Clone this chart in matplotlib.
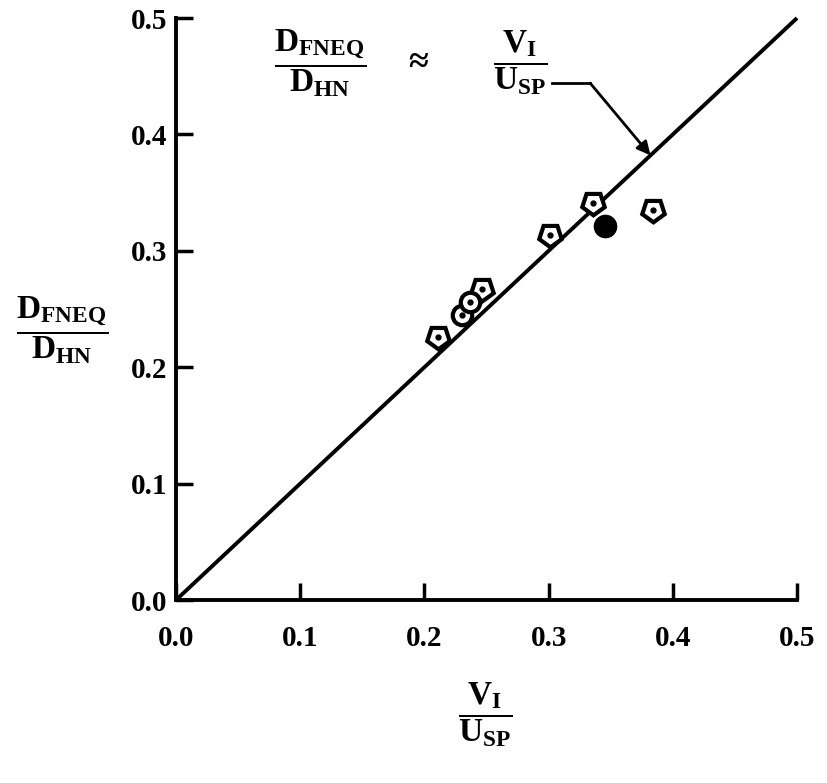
import matplotlib

matplotlib.use("Agg")
import matplotlib.pyplot as plt

# data
ratio_open = [0.211, 0.246, 0.301, 0.336, 0.384]
dfneq_open = [0.226, 0.267, 0.314, 0.341, 0.335]
ratio_circ = [0.230, 0.237]
dfneq_circ = [0.245, 0.256]
ratio_filled = [0.345]
dfneq_filled = [0.321]
line_x = [0.0, 0.5]
ticks = [0.0, 0.1, 0.2, 0.3, 0.4, 0.5]
tick_labels = ["0.0", "0.1", "0.2", "0.3", "0.4", "0.5"]

plt.rcParams.update(
    {
        "font.family": "Liberation Serif",
        "font.weight": "bold",
        "mathtext.fontset": "custom",
        "mathtext.rm": "Liberation Serif:bold",
        "mathtext.it": "Liberation Serif:bold",
        "mathtext.bf": "Liberation Serif:bold",
    }
)

fig = plt.figure(figsize=(8.28, 7.83), dpi=100)
ax = fig.add_axes([0.2126, 0.2337, 0.75, 0.7433])

ax.plot(line_x, line_x, color="black", lw=2.8, solid_capstyle="butt", clip_on=False)

# shield-like open symbols with a dot in the middle
shield = (5, 0, 180)
ax.plot(ratio_open, dfneq_open, ls="none", marker=shield, ms=17, mfc="white",
        mec="black", mew=3, zorder=3)
ax.plot(ratio_circ, dfneq_circ, ls="none", marker="o", ms=14, mfc="white",
        mec="black", mew=3, zorder=3)
ax.plot(ratio_open + ratio_circ, dfneq_open + dfneq_circ, ls="none", marker="o",
        ms=3.5, color="black", zorder=4)
ax.plot(ratio_filled, dfneq_filled, ls="none", marker="o", ms=16, color="black", zorder=3)

ax.set_xlim(0, 0.5)
ax.set_ylim(0, 0.5)
ax.set_xticks(ticks)
ax.set_yticks(ticks)
ax.set_xticklabels(tick_labels, fontsize=21, fontweight="bold")
ax.set_yticklabels(tick_labels, fontsize=21, fontweight="bold")
ax.tick_params(axis="both", direction="in", length=12, width=2.5, color="black")
ax.tick_params(axis="x", pad=18)
ax.tick_params(axis="y", pad=6)
for side in ("top", "right"):
    ax.spines[side].set_visible(False)
for side in ("left", "bottom"):
    ax.spines[side].set_linewidth(2.8)

frac_y = r"$\dfrac{\mathrm{D_{FNEQ}}}{\mathrm{D_{HN}}}$"
frac_x = r"$\dfrac{\mathrm{V_{I}}}{\mathrm{U_{SP}}}$"

ax.text(-0.184, 0.464, frac_y, transform=ax.transAxes, fontsize=24,
        ha="center", va="center")
ax.text(0.498, -0.198, frac_x, transform=ax.transAxes, fontsize=24,
        ha="center", va="center")

# equation annotation with leader arrow to the line
ax.text(0.232, 0.923, frac_y, transform=ax.transAxes, fontsize=24,
        ha="center", va="center")
ax.text(0.385, 0.926, r"$\approx$", transform=ax.transAxes, fontsize=26,
        ha="center", va="center")
ax.text(0.554, 0.923, frac_x, transform=ax.transAxes, fontsize=24,
        ha="center", va="center")
ax.plot([0.606, 0.667], [0.888, 0.888], transform=ax.transAxes, color="black",
        lw=2, clip_on=False)
ax.annotate("", xy=(0.382, 0.382), xycoords="data",
            xytext=(0.667, 0.888), textcoords="axes fraction",
            arrowprops=dict(arrowstyle="-|>", color="black", lw=2,
                            mutation_scale=20, shrinkA=0, shrinkB=0))

fig.savefig("out.png", dpi=100, facecolor="white")
